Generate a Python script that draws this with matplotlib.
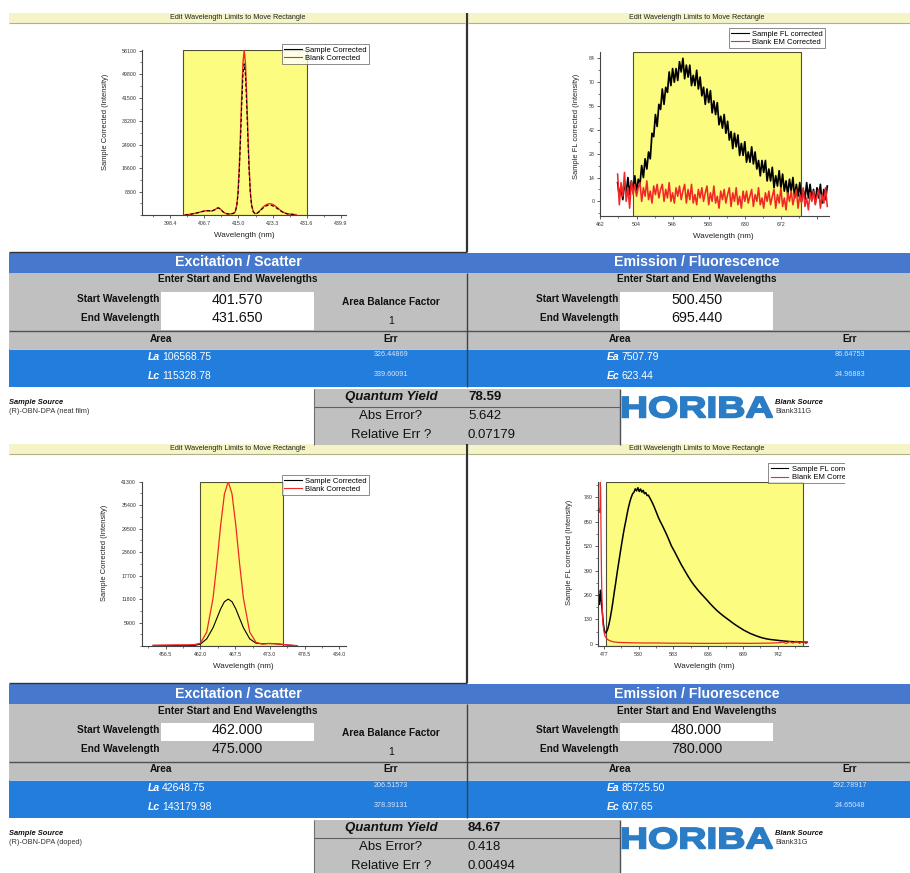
import matplotlib
matplotlib.use("Agg")
import matplotlib.pyplot as plt
from matplotlib.patches import Rectangle, PathPatch
from matplotlib.lines import Line2D
from matplotlib.ticker import AutoMinorLocator
from matplotlib.textpath import TextPath
from matplotlib.font_manager import FontProperties
from matplotlib.transforms import Affine2D

SANS = ["Liberation Sans", "DejaVu Sans"]
plt.rcParams["font.family"] = SANS

W, H = 910, 873

# ======================= DATA =======================
bar_title = "Edit Wavelength Limits to Move Rectangle"
ex_legend = ["Sample Corrected", "Blank Corrected"]
em_legend = ["Sample FL corrected", "Blank EM Corrected"]
ex_ylabel = "Sample Corrected (Intensity)"
em_ylabel = "Sample FL corrected (Intensity)"
xlabel = "Wavelength (nm)"

# --- panel 1 (neat film): excitation / scatter ---
ex1_wl = [402.0, 403.0, 404.0, 405.0, 406.0, 407.0, 407.8, 408.5, 409.2, 409.8, 410.2, 410.7,
          411.2, 411.8, 412.5, 413.2, 413.8, 414.2, 414.6, 414.9, 415.2, 415.5, 415.8, 416.1,
          416.4, 416.7, 417.0, 417.3, 417.6, 417.9, 418.2, 418.6, 419.0, 419.5, 420.0, 420.5,
          421.0, 421.5, 422.0, 422.5, 423.0, 423.5, 424.0, 424.5, 425.0, 425.5, 426.0, 426.5,
          427.0, 428.0, 429.0]
ex1_blank = [0, 200, 450, 750, 1150, 1500, 1500, 1400, 1800, 2400, 2500, 2000,
             1200, 600, 350, 400, 600, 1000, 3500, 8000, 16800, 29000, 42400, 53700,
             58100, 53700, 42400, 29000, 16800, 8000, 3500, 1200, 500, 600, 1200, 2000,
             2800, 3400, 3800, 4000, 3900, 3600, 3100, 2500, 1900, 1300, 900, 600,
             400, 250, 150]
ex1_sample = [0, 200, 450, 750, 1150, 1500, 1500, 1400, 1800, 2400, 2500, 2000,
              1200, 600, 350, 400, 600, 1000, 3300, 7400, 15400, 26700, 39000, 49400,
              53400, 49400, 39000, 26700, 15400, 7400, 3300, 1100, 500, 600, 1100, 1800,
              2500, 3000, 3400, 3500, 3400, 3100, 2700, 2200, 1700, 1200, 800, 550,
              350, 220, 130]
ex1_xticks = [398.4, 406.7, 415.0, 423.3, 431.6, 439.9]
ex1_yticks = [8300, 16600, 24900, 33200, 41500, 49800, 58100]

# --- panel 1: emission / fluorescence (2 nm sampling) ---
em1_wl = list(range(482, 727, 2))
em1_sample = [11, 3, 9, 1, 11, 5, 14, 4, 12, 6,
              15, 5, 13, 10, 21, 14, 25, 19, 29, 25,
              40, 38, 51, 44, 57, 54, 66, 57, 67, 64,
              76, 68, 78, 70, 78, 71, 82, 76, 84, 72,
              80, 73, 80, 68, 74, 68, 77, 66, 73, 62,
              67, 57, 66, 58, 65, 52, 59, 51, 58, 45,
              50, 43, 51, 40, 47, 36, 41, 31, 40, 32,
              39, 27, 34, 27, 35, 23, 29, 23, 32, 22,
              29, 19, 24, 15, 24, 17, 24, 12, 19, 12,
              20, 8, 15, 9, 18, 8, 16, 6, 12, 4,
              13, 6, 14, 2, 10, 3, 11, 0, 7, 1,
              11, 2, 10, 1, 7, -1, 8, 2, 10, -1,
              7, 1, 9]
em1_blank = [16, -2, 11, 3, 17, 0, 8, -4, 12, 4,
             10, 3, 8, 11, 0, 8, 3, 12, 1, 6,
             -1, 9, 4, 10, 2, 7, 10, 0, 7, 2,
             11, 0, 5, -1, 8, 3, 9, 1, 6, 10,
             -1, 7, 1, 10, -1, 4, -2, 7, 2, 8,
             0, 5, 9, -2, 5, 0, 9, -1, 3, -4,
             6, 1, 7, -1, 4, 8, -3, 5, 0, 8,
             -2, 3, -4, 6, 0, 6, -1, 3, 7, -3,
             4, 0, 8, -2, 2, -4, 5, 0, 6, -2,
             3, 7, -4, 4, -1, 8, -3, 2, -5, 5,
             0, 6, -2, 3, 7, -4, 4, -1, 8, -3,
             2, -5, 5, 0, 6, -2, 3, 7, -4, 4,
             -1, 8, -3]
em1_xticks = [462, 504, 546, 588, 630, 672, 714]
em1_xticklabels = ["462", "504", "546", "588", "630", "672", ""]
em1_yticks = [0, 14, 28, 42, 56, 70, 84]

# --- panel 2 (doped): excitation / scatter ---
ex2_wl = [454.5, 456.0, 458.0, 460.0, 461.0, 462.0, 463.0, 464.0, 464.6, 465.2, 465.8, 466.4,
          467.0, 467.6, 468.2, 468.8, 469.8, 470.8, 471.8, 472.8, 473.8, 474.8, 476.0, 477.3]
ex2_blank = [200, 250, 300, 300, 350, 700, 3500, 12060, 20660, 30360, 38240, 41300,
             38240, 30360, 20660, 12060, 3500, 900, 500, 600, 550, 450, 250, 100]
ex2_sample = [50, 60, 80, 90, 100, 500, 1800, 4610, 6955, 9330, 11130, 11800,
              11130, 9330, 6955, 4610, 1800, 700, 550, 650, 600, 400, 200, 80]
ex2_xticks = [456.5, 462.0, 467.5, 473.0, 478.5, 484.0]
ex2_yticks = [5900, 11800, 17700, 23600, 29500, 35400, 41300]

# --- panel 2: emission / fluorescence ---
em2_sample_wl = [470.5, 471, 471.5, 472, 472.5, 473, 473.5, 474.5, 475.5, 476.5, 477.5, 478.5,
                 479.5, 481, 483, 485, 487, 489, 491, 493, 495, 497, 499, 501, 503, 505, 507,
                 509, 511, 513, 515, 517, 519, 521, 523, 525, 527, 529, 531, 533, 535, 537,
                 539, 541, 543, 545, 548, 551, 554, 557, 560, 563, 566, 569, 572, 576, 580,
                 585, 590, 595, 600, 605, 610, 615, 620, 625, 630, 635, 640, 645, 650, 655,
                 660, 665, 670, 675, 680, 685, 690, 695, 700, 705, 710, 715, 720, 725, 730,
                 735, 740, 750, 760, 770, 780, 788]
em2_sample = [210, 260, 230, 285, 240, 270, 220, 180, 140, 105, 80, 65,
              58, 62, 78, 105, 140, 180, 225, 275, 320, 370, 415, 460, 505, 548, 590,
              628, 662, 700, 732, 760, 782, 800, 808, 826, 815, 832, 812, 825, 808, 818,
              800, 806, 790, 792, 772, 752, 728, 702, 675, 652, 632, 610, 588, 556, 522,
              490, 456, 422, 392, 362, 334, 310, 288, 268, 249, 230, 210, 192, 175, 160,
              146, 133, 120, 107, 95, 84, 73, 64, 55, 48, 41, 35, 30, 26, 23,
              21, 19, 15, 12, 10, 9, 8]
em2_blank_wl = [470.5, 471.2, 471.8, 472.3, 472.8, 473.5, 474.2, 475, 476, 477.5, 479, 481,
                484, 488, 492, 500, 510, 520, 540, 560, 580, 600, 625, 650, 675, 700, 720,
                735, 745, 750, 755, 760, 765, 770, 775, 780, 785, 788]
em2_blank = [720, 700, 860, 820, 600, 380, 250, 170, 100, 60, 40, 30,
             20, 14, 10, 7, 6, 5, 4, 4, 3, 3, 2, 2, 3, 2, 3,
             4, 6, 9, 1, 12, 3, 14, 2, 12, 1, 9]
em2_xticks = [477, 530, 583, 636, 689, 742]
em2_yticks = [0, 130, 260, 390, 520, 650, 780]

# --- result tables ---
ex_start = [401.570, 462.000]
ex_end = [431.650, 475.000]
em_start = [500.450, 480.000]
em_end = [695.440, 780.000]
area_balance = [1, 1]
La = [106568.75, 42648.75]
La_err = [326.44869, 206.51573]
Lc = [115328.78, 143179.98]
Lc_err = [339.60091, 378.39131]
Ea = [7507.79, 85725.50]
Ea_err = [86.64753, 292.78917]
Ec = [623.44, 607.65]
Ec_err = [24.96883, 24.65048]
qy = [78.59, 84.67]
abs_err = [5.642, 0.418]
rel_err = [0.07179, 0.00494]
sample_source = ["(R)-OBN-DPA (neat film)", "(R)-OBN-DPA (doped)"]
blank_source = ["Blank311G", "Blank31G"]

# ======================= STYLE / LAYOUT =======================
HEADER = "#4678CD"
DATA = "#237DDC"
GRAY = "#C0C0C0"
YELLOW = "#FCFC80"
BAR = "#F4F4C6"
HBLUE = "#2A7DC4"
RED = "#F02828"
DY = [0, 431]           # vertical offset of the second block
WHITE_BOTH = [True, False]

fig = plt.figure(figsize=(W / 100, H / 100), dpi=100)
fig.patch.set_facecolor("white")

bg = fig.add_axes([0, 0, 1, 1])
bg.set_xlim(0, W)
bg.set_ylim(H, 0)
bg.axis("off")
bg.set_zorder(-1)


def box(x0, y0, x1, y1, fc, z=1):
    bg.add_patch(Rectangle((x0, y0), x1 - x0, y1 - y0, facecolor=fc, edgecolor="none", zorder=z))


def line(xs, ys, c="#404040", lw=1.0, z=2):
    bg.plot(xs, ys, color=c, lw=lw, zorder=z, solid_capstyle="butt")


def T(x, y, s, size, weight="normal", style="normal", ha="center", color="#111111", z=4):
    return bg.text(x, y, s, fontsize=size, fontweight=weight, fontstyle=style,
                   ha=ha, va="center", color=color, zorder=z)


def px_axes(x0, y0, x1, y1):
    return fig.add_axes([x0 / W, 1 - y1 / H, (x1 - x0) / W, (y1 - y0) / H])


def style_axes(ax, xlim, ylim, xticks, xtl, yticks, ytl, xlab_pos, ylab_pos, ylab):
    ax.set_xlim(*xlim)
    ax.set_ylim(*ylim)
    ax.set_xticks(xticks)
    ax.set_xticklabels(xtl)
    ax.set_yticks(yticks)
    ax.set_yticklabels(ytl)
    ax.xaxis.set_minor_locator(AutoMinorLocator(2))
    ax.yaxis.set_minor_locator(AutoMinorLocator(2))
    for s in ["top", "right"]:
        ax.spines[s].set_visible(False)
    for s in ["left", "bottom"]:
        ax.spines[s].set_color("#444444")
        ax.spines[s].set_linewidth(0.8)
    ax.tick_params(which="major", direction="out", length=2.5, width=0.6, labelsize=3.8,
                   pad=1.5, color="#444444", labelcolor="#333333")
    ax.tick_params(which="minor", direction="out", length=1.5, width=0.5, color="#444444")
    ax.patch.set_alpha(0)
    ax.set_xlabel(xlabel, fontsize=5.8, color="#222222")
    ax.set_ylabel(ylab, fontsize=5.4, color="#222222")
    ax.xaxis.label.set_va("center")
    ax.yaxis.label.set_va("center")
    ax.xaxis.set_label_coords(*xlab_pos)
    ax.yaxis.set_label_coords(*ylab_pos)


def add_legend(ax, labels, x0, y0):
    handles = [Line2D([], [], color="black", lw=0.8), Line2D([], [], color=RED, lw=0.8)]
    lg = ax.legend(handles, labels, loc="upper left", bbox_to_anchor=(x0 / W, 1 - y0 / H),
                   bbox_transform=fig.transFigure, fontsize=5.5, frameon=True, fancybox=False,
                   borderpad=0.3, handlelength=2.3, handletextpad=0.45, labelspacing=0.12,
                   borderaxespad=0)
    lg.get_frame().set_edgecolor("#555555")
    lg.get_frame().set_linewidth(0.6)
    return lg


# ---------------- title bars and frames ----------------
for dy in DY:
    box(9, 13.3 + dy, 465, 22.7 + dy, BAR)
    box(468, 13.3 + dy, 910, 22.7 + dy, BAR)
    line([9, 465], [22.5 + dy, 22.5 + dy], c="#B0B088", lw=0.8)
    line([468, 910], [22.5 + dy, 22.5 + dy], c="#B0B088", lw=0.8)
    T(238, 17.8 + dy, bar_title, 5.2, color="#222222")
    T(697, 17.8 + dy, bar_title, 5.2, color="#222222")
    line([466.7, 466.7], [13.3 + dy, 252 + dy], c="#333333", lw=1.6)
    line([9, 466.7], [251.5 + dy, 251.5 + dy], c="#333333", lw=1.0)

# ---------------- charts ----------------
# panel 1 excitation
ax = px_axes(142, 50, 346, 215)
ax.axvspan(ex_start[0], ex_end[0], facecolor=YELLOW, edgecolor="#505030", lw=0.8, zorder=0.5)
ax.plot(ex1_wl, ex1_blank, color=RED, lw=1.0, zorder=2)
ax.plot(ex1_wl, ex1_sample, color="black", lw=0.8, ls=(0, (3, 2)), zorder=3)
style_axes(ax, (391.6, 441.1), (0, 58300), ex1_xticks, [f"{v:.1f}" for v in ex1_xticks],
           ex1_yticks, [str(v) for v in ex1_yticks], (0.5, -0.123), (-0.181, 0.565), ex_ylabel)
add_legend(ax, ex_legend, 282, 44)

# panel 1 emission
ax = px_axes(600, 51.7, 829, 216)
ax.axvspan(em_start[0], em_end[0], facecolor=YELLOW, edgecolor="#505030", lw=0.8, zorder=0.5)
ax.plot(em1_wl, em1_sample, color="black", lw=1.25, zorder=2)
ax.plot(em1_wl, em1_blank, color=RED, lw=1.15, zorder=3)
style_axes(ax, (461.5, 728), (-8.6, 87.9), em1_xticks, em1_xticklabels,
           em1_yticks, [str(v) for v in em1_yticks], (0.538, -0.122), (-0.102, 0.543), em_ylabel)
add_legend(ax, em_legend, 729, 28)

# panel 2 excitation
ax = px_axes(141.7, 481.7, 345.7, 646)
ax.axvspan(ex_start[1], ex_end[1], facecolor=YELLOW, edgecolor="#505030", lw=0.8, zorder=0.5)
ax.plot(ex2_wl, ex2_sample, color="black", lw=0.8, zorder=2)
ax.plot(ex2_wl, ex2_blank, color=RED, lw=0.9, zorder=3)
style_axes(ax, (452.7, 485.0), (0, 41300), ex2_xticks, [f"{v:.1f}" for v in ex2_xticks],
           ex2_yticks, [str(v) for v in ex2_yticks], (0.498, -0.126), (-0.18, 0.564), ex_ylabel)
add_legend(ax, ex_legend, 281.7, 475)

# panel 2 emission
ax = px_axes(598.3, 481.7, 808.3, 646)
ax.axvspan(em_start[1], em_end[1], facecolor=YELLOW, edgecolor="#505030", lw=0.8, zorder=0.5)
ax.plot(em2_sample_wl, em2_sample, color="black", lw=1.1, zorder=2)
ax.plot(em2_blank_wl, em2_blank, color=RED, lw=0.9, zorder=3)
style_axes(ax, (468.7, 788.5), (-12, 864), em2_xticks, [str(v) for v in em2_xticks],
           em2_yticks, [str(v) for v in em2_yticks], (0.505, -0.124), (-0.135, 0.57), em_ylabel)
add_legend(ax, em_legend, 768.3, 463.3)

# mask that cuts the last legend at the window edge
mask = fig.add_axes([845 / W, 1 - 490 / H, (W - 845) / W, 32 / H])
mask.set_zorder(10)
mask.axis("off")
mask.add_patch(Rectangle((0, 0), 1, 1, transform=mask.transAxes, facecolor="white", edgecolor="none"))

# ---------------- tables ----------------
fig.canvas.draw()
renderer = fig.canvas.get_renderer()
RIGHT = 459

for i, dy in enumerate(DY):
    box(9, 253.3 + dy, 910, 272.7 + dy, HEADER)
    box(9, 272.7 + dy, 910, 349.3 + dy, GRAY)
    box(9, 349.3 + dy, 910, 387.3 + dy, DATA)
    line([9, 910], [331.3 + dy, 331.3 + dy], c="#505050", lw=1.0)
    line([9, 910], [349.3 + dy, 349.3 + dy], c="#D8D8D8", lw=0.6)
    line([466.7, 466.7], [272.7 + dy, 387.3 + dy], c="#404040", lw=1.0)
    wb_bottom = 330 if WHITE_BOTH[i] else 309.8
    for off in (0, RIGHT):
        box(161 + off, 291.7 + dy, 314 + off, wb_bottom + dy, "white", z=1.5)

    T(238, 262.5 + dy, "Excitation / Scatter", 10.2, weight="bold", color="white")
    T(238 + RIGHT, 262.5 + dy, "Emission / Fluorescence", 10.2, weight="bold", color="white")
    for off, s, e in ((0, ex_start[i], ex_end[i]), (RIGHT, em_start[i], em_end[i])):
        T(238 + off, 279.5 + dy, "Enter Start and End Wavelengths", 7.3, weight="bold")
        T(159.3 + off, 299 + dy, "Start Wavelength", 7.3, weight="bold", ha="right")
        T(159.3 + off, 317.8 + dy, "End Wavelength", 7.3, weight="bold", ha="right")
        T(237.5 + off, 299.5 + dy, f"{s:.3f}", 10.3)
        T(237.5 + off, 318.3 + dy, f"{e:.3f}", 10.3)
        T(161 + off, 338.5 + dy, "Area", 7.3, weight="bold")
        T(391 + off, 338.5 + dy, "Err", 7.3, weight="bold")
    T(390.5, 302.3 + dy, "Area Balance Factor", 7.3, weight="bold")
    T(390.7, 321 + dy, str(area_balance[i]), 7.5)

    rows = [(0, "La", La[i], La_err[i], 356.8, 354.2),
            (0, "Lc", Lc[i], Lc_err[i], 376.0, 374.2),
            (RIGHT, "Ea", Ea[i], Ea_err[i], 356.8, 354.2),
            (RIGHT, "Ec", Ec[i], Ec_err[i], 376.0, 374.2)]
    for off, tag, val, err, yv, ye in rows:
        t = T(147.7 + off, yv + dy, tag, 7.5, weight="bold", style="italic", ha="left", color="white")
        bb = t.get_window_extent(renderer=renderer)
        T(bb.x1 + 2.2, yv + dy, f"{val:.2f}", 7.5, ha="left", color="white")
        T(390.8 + off, ye + dy, f"{err:.5f}", 5.2, color="#D6E4F8")

    # quantum yield box
    qb = min(445 + dy, H)
    box(314, 389.3 + dy, 620, qb, GRAY)
    line([314, 314], [389.3 + dy, qb], c="#707070", lw=0.8)
    line([620, 620], [389.3 + dy, qb], c="#505050", lw=1.0)
    line([314, 620], [407.3 + dy, 407.3 + dy], c="#606060", lw=0.8)
    T(391.5, 397.2 + dy, "Quantum Yield", 9.5, weight="bold", style="italic")
    T(468, 397.2 + dy, f"{qy[i]:.2f}", 9.5, weight="bold", ha="left")
    T(391, 416.2 + dy, "Abs Error?", 9.5)
    T(468, 416.2 + dy, f"{abs_err[i]:.3f}", 9.5, ha="left")
    T(391.5, 435 + dy, "Relative Err ?", 9.5)
    T(468, 435 + dy, f"{rel_err[i]:.5f}", 9.5, ha="left")

    # sources
    T(9, 402.7 + dy, "Sample Source", 5.4, weight="bold", style="italic", ha="left")
    T(9, 411.8 + dy, sample_source[i], 5.3, ha="left", color="#333333")
    T(775, 402.7 + dy, "Blank Source", 5.4, weight="bold", style="italic", ha="left")
    T(775, 411.3 + dy, blank_source[i], 5.3, ha="left", color="#333333")

    # HORIBA logo text, stretched to its box and thickened
    tp = TextPath((0, 0), "HORIBA", size=100, prop=FontProperties(family="Liberation Sans", weight="bold"))
    ext = tp.get_extents()
    sx = (772.5 - 622.5) / ext.width
    sy = (417.6 - 396.7) / ext.height
    tr = Affine2D().translate(-ext.x0, -ext.y0).scale(sx, -sy).translate(622.5, 417.6 + dy)
    bg.add_patch(PathPatch(tr.transform_path(tp), facecolor=HBLUE, edgecolor=HBLUE,
                           lw=1.3, joinstyle="miter", zorder=3))

fig.savefig("out.png", dpi=100, facecolor="white")
